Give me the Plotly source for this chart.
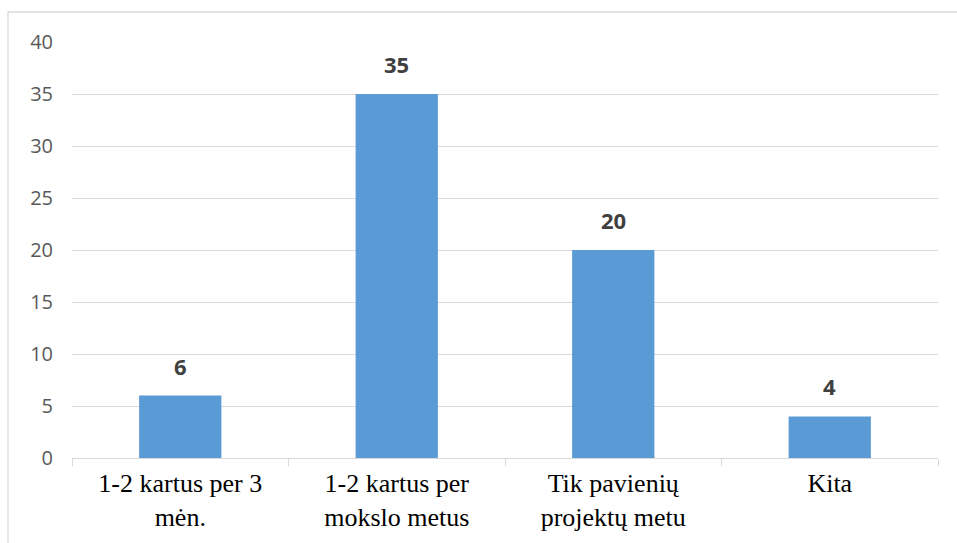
import plotly.graph_objects as go

categories = ["1-2 kartus per 3<br>mėn.", "1-2 kartus per<br>mokslo metus",
              "Tik pavienių<br>projektų metu", "Kita"]
values = [6, 35, 20, 4]
y_ticks = [0, 5, 10, 15, 20, 25, 30, 35, 40]

W, H = 957, 543
L, R, T, B = 72, 19, 42, 85
pw, ph = W - L - R, H - T - B

fig = go.Figure(go.Bar(
    x=categories, y=values,
    marker=dict(color="#5B9BD5", line=dict(width=0)),
    width=0.38, hoverinfo="skip",
))

for c, v in zip(categories, values):
    fig.add_annotation(x=c, y=v, text=str(v), showarrow=False,
                       yanchor="bottom", yshift=13,
                       font=dict(family="Open Sans", size=22, color="#404040", weight="bold"))

# outer chart border
fig.add_shape(type="rect", xref="paper", yref="paper",
              x0=(8 - L) / pw, x1=(W + 5 - L) / pw,
              y0=-(H + 5 - (T + ph)) / ph, y1=(T + ph - 12) / ph,
              line=dict(color="#d9d9d9", width=1.3), fillcolor="rgba(0,0,0,0)", layer="below")

fig.update_layout(
    width=W, height=H,
    margin=dict(l=L, r=R, t=T, b=B, autoexpand=False),
    paper_bgcolor="white", plot_bgcolor="white",
    showlegend=False,
    xaxis=dict(showline=True, linecolor="#d9d9d9", linewidth=1.3,
               ticks="outside", tickson="boundaries", ticklen=7, tickcolor="#d9d9d9", tickwidth=1.3,
               showgrid=False, automargin=False,
               tickfont=dict(family="Liberation Serif", size=26, color="#000000"),
               ticklabelstandoff=2),
    yaxis=dict(range=[0, 40], tickvals=y_ticks, showgrid=True, gridcolor="#d9d9d9", gridwidth=1.3,
               zeroline=False, showline=False, ticks="", automargin=False,
               tickfont=dict(family="Open Sans", size=20, color="#595959"),
               ticklabelstandoff=18),
)

fig.write_html("out.html", config={"displayModeBar": False},
               post_script="document.body.style.margin='0';document.body.style.overflow='hidden';")
